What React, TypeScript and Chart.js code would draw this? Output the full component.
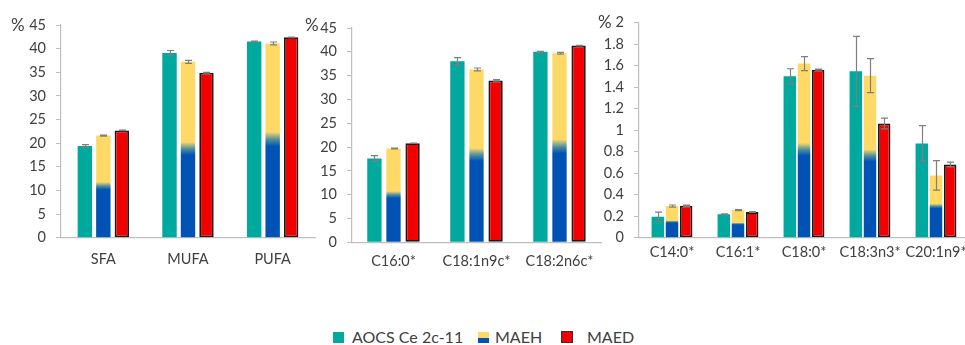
import React, { useEffect, useRef } from "react";
import { Chart, registerables } from "chart.js";

Chart.register(...registerables);

// ---------- DATA ----------
const seriesNames = ["AOCS Ce 2c-11", "MAEH", "MAED"];

const groupCategories = ["SFA", "MUFA", "PUFA"];
const groupAocs = [19.4, 39.1, 41.5];
const groupAocsErr = [0.3, 0.5, 0.1];
const groupMaeh = [21.6, 37.2, 41.1];
const groupMaehErr = [0.1, 0.3, 0.3];
const groupMaed = [22.7, 34.9, 42.4];
const groupMaedErr = [0.05, 0.1, 0.05];

const majorCategories = ["C16:0*", "C18:1n9c*", "C18:2n6c*"];
const majorAocs = [17.6, 38.0, 40.0];
const majorAocsErr = [0.6, 0.8, 0.1];
const majorMaeh = [19.7, 36.3, 39.7];
const majorMaehErr = [0.1, 0.3, 0.2];
const majorMaed = [20.8, 34.0, 41.3];
const majorMaedErr = [0.05, 0.15, 0.05];

const minorCategories = ["C14:0*", "C16:1*", "C18:0*", "C18:3n3*", "C20:1n9*"];
const minorAocs = [0.195, 0.217, 1.5, 1.546, 0.876];
const minorAocsErr = [0.042, 0.005, 0.07, 0.325, 0.165];
const minorMaeh = [0.294, 0.257, 1.618, 1.506, 0.579];
const minorMaehErr = [0.01, 0.005, 0.065, 0.158, 0.137];
const minorMaed = [0.297, 0.238, 1.562, 1.061, 0.681];
const minorMaedErr = [0.005, 0.004, 0.004, 0.05, 0.022];

const percentTicksMax = 45;
const percentTicksStep = 5;
const minorTicksMax = 2;
const minorTicksStep = 0.2;

// ---------- STYLE ----------
const TEAL = "#00A99D";
const BLUE = "#0052B4";
const YELLOW = "#FFD966";
const RED = "#F20000";
const TEXT = "#404040";
const AXIS = "#BFBFBF";
const FONT = "Lato, 'Open Sans', sans-serif";

const maehFill = (ctx: any) => {
  if (!ctx || ctx.type !== "data") return YELLOW;
  const chart = ctx.chart;
  const y = chart.scales && chart.scales.y;
  if (!y) return YELLOW;
  const top = y.getPixelForValue(ctx.raw);
  const base = y.getPixelForValue(0);
  if (!isFinite(top) || !isFinite(base) || Math.abs(top - base) < 0.5) return YELLOW;
  const g = chart.ctx.createLinearGradient(0, base, 0, top);
  g.addColorStop(0, BLUE);
  g.addColorStop(0.47, BLUE);
  g.addColorStop(0.505, "#4E8F9A");
  g.addColorStop(0.545, YELLOW);
  g.addColorStop(1, YELLOW);
  return g;
};

const errorBarPlugin = {
  id: "errorBars",
  afterDatasetsDraw(chart: any) {
    const ctx = chart.ctx;
    const y = chart.scales.y;
    chart.data.datasets.forEach((ds: any, di: number) => {
      const errs = ds.errors;
      if (!errs) return;
      const meta = chart.getDatasetMeta(di);
      meta.data.forEach((el: any, i: number) => {
        const v = ds.data[i];
        const e = errs[i];
        if (!e) return;
        const x = Math.round(el.x) + 0.5;
        const y1 = y.getPixelForValue(v - e);
        const y2 = y.getPixelForValue(v + e);
        ctx.save();
        ctx.strokeStyle = "#7F7F7F";
        ctx.lineWidth = 1.2;
        ctx.beginPath();
        ctx.moveTo(x, y1);
        ctx.lineTo(x, y2);
        ctx.moveTo(x - 3.5, y1);
        ctx.lineTo(x + 3.5, y1);
        ctx.moveTo(x - 3.5, y2);
        ctx.lineTo(x + 3.5, y2);
        ctx.stroke();
        ctx.restore();
      });
    });
  },
};

type PanelProps = {
  categories: string[];
  aocs: number[];
  aocsErr: number[];
  maeh: number[];
  maehErr: number[];
  maed: number[];
  maedErr: number[];
  yMax: number;
  yStep: number;
  left: number;
  width: number;
  height: number;
  yAxisWidth: number;
  padTop: number;
  padRight: number;
  areaBottom: number;
  labelPad: number;
  catPct: number;
  barPct: number;
};

function Panel(p: PanelProps) {
  const ref = useRef<HTMLCanvasElement | null>(null);
  useEffect(() => {
    if (!ref.current) return;
    const chart = new Chart(ref.current, {
      type: "bar",
      data: {
        labels: p.categories,
        datasets: [
          {
            label: seriesNames[0],
            data: p.aocs,
            errors: p.aocsErr,
            backgroundColor: TEAL,
            borderWidth: 0,
            categoryPercentage: p.catPct,
            barPercentage: p.barPct,
          } as any,
          {
            label: seriesNames[1],
            data: p.maeh,
            errors: p.maehErr,
            backgroundColor: maehFill,
            borderWidth: 0,
            categoryPercentage: p.catPct,
            barPercentage: p.barPct,
          } as any,
          {
            label: seriesNames[2],
            data: p.maed,
            errors: p.maedErr,
            backgroundColor: RED,
            borderColor: "#1A1A1A",
            borderWidth: 1.8,
            borderSkipped: false,
            categoryPercentage: p.catPct,
            barPercentage: p.barPct,
          } as any,
        ],
      },
      options: {
        animation: false,
        responsive: false,
        maintainAspectRatio: false,
        devicePixelRatio: 1,
        layout: { padding: { top: p.padTop, right: p.padRight, left: 0, bottom: 0 } },
        plugins: {
          legend: { display: false },
          tooltip: { enabled: false },
        },
        scales: {
          x: {
            grid: { display: false, drawTicks: false },
            border: { display: true, color: AXIS, width: 1.2 },
            ticks: {
              color: TEXT,
              font: { family: FONT, size: 14.5 },
              padding: p.labelPad,
              maxRotation: 0,
              autoSkip: false,
            },
            afterFit: (s: any) => {
              s.height = p.height - p.areaBottom;
            },
          },
          y: {
            min: 0,
            max: p.yMax,
            grid: {
              drawOnChartArea: false,
              drawTicks: true,
              tickLength: 5,
              color: AXIS,
            },
            border: { display: true, color: AXIS, width: 1.2 },
            ticks: {
              stepSize: p.yStep,
              color: TEXT,
              font: { family: FONT, size: 14.5 },
              padding: 10,
              callback: (v: any) => String(Math.round(Number(v) * 100) / 100),
            },
            afterFit: (s: any) => {
              s.width = p.yAxisWidth;
            },
          },
        },
      },
      plugins: [errorBarPlugin],
    } as any);
    return () => chart.destroy();
  }, []);
  return (
    <canvas
      ref={ref}
      width={p.width}
      height={p.height}
      style={{ position: "absolute", left: p.left, top: 0, width: p.width, height: p.height }}
    />
  );
}

const pctStyle = (left: number, top: number): React.CSSProperties => ({
  position: "absolute",
  left,
  top,
  fontFamily: FONT,
  fontSize: 17,
  color: TEXT,
  lineHeight: "18px",
});

const legendText: React.CSSProperties = {
  position: "absolute",
  top: 328,
  fontFamily: FONT,
  fontSize: 16,
  color: TEXT,
  lineHeight: "18px",
  whiteSpace: "nowrap",
};

export default function App() {
  return (
    <div
      style={{
        position: "fixed",
        left: 0,
        top: 0,
        width: 965,
        height: 345,
        overflow: "hidden",
        background: "#fff",
      }}
    >
      <Panel
        categories={groupCategories}
        aocs={groupAocs}
        aocsErr={groupAocsErr}
        maeh={groupMaeh}
        maehErr={groupMaehErr}
        maed={groupMaed}
        maedErr={groupMaedErr}
        yMax={percentTicksMax}
        yStep={percentTicksStep}
        left={0}
        width={325}
        height={285}
        yAxisWidth={61}
        padTop={25}
        padRight={10}
        areaBottom={237.7}
        labelPad={13}
        catPct={0.655}
        barPct={0.78}
      />
      <Panel
        categories={majorCategories}
        aocs={majorAocs}
        aocsErr={majorAocsErr}
        maeh={majorMaeh}
        maehErr={majorMaehErr}
        maed={majorMaed}
        maedErr={majorMaedErr}
        yMax={percentTicksMax}
        yStep={percentTicksStep}
        left={300}
        width={310}
        height={285}
        yAxisWidth={52}
        padTop={28}
        padRight={9}
        areaBottom={242.3}
        labelPad={10}
        catPct={0.69}
        barPct={0.75}
      />
      <Panel
        categories={minorCategories}
        aocs={minorAocs}
        aocsErr={minorAocsErr}
        maeh={minorMaeh}
        maehErr={minorMaehErr}
        maed={minorMaed}
        maedErr={minorMaedErr}
        yMax={minorTicksMax}
        yStep={minorTicksStep}
        left={590}
        width={385}
        height={285}
        yAxisWidth={49}
        padTop={22.5}
        padRight={6}
        areaBottom={237.7}
        labelPad={6}
        catPct={0.645}
        barPct={0.88}
      />
      <div style={pctStyle(11, 16)}>%</div>
      <div style={pctStyle(305, 16)}>%</div>
      <div style={pctStyle(598, 13)}>%</div>

      <div style={{ position: "absolute", left: 333, top: 332, width: 11, height: 11, background: TEAL }} />
      <div style={{ ...legendText, left: 352 }}>{seriesNames[0]}</div>
      <div
        style={{
          position: "absolute",
          left: 478,
          top: 332,
          width: 11,
          height: 11,
          background: `linear-gradient(to bottom, ${YELLOW} 0%, ${YELLOW} 50%, ${BLUE} 50%, ${BLUE} 100%)`,
        }}
      />
      <div style={{ ...legendText, left: 495 }}>{seriesNames[1]}</div>
      <div
        style={{
          position: "absolute",
          left: 561,
          top: 331,
          width: 10,
          height: 10,
          background: RED,
          border: "1px solid #333",
        }}
      />
      <div style={{ ...legendText, left: 587 }}>{seriesNames[2]}</div>
    </div>
  );
}
